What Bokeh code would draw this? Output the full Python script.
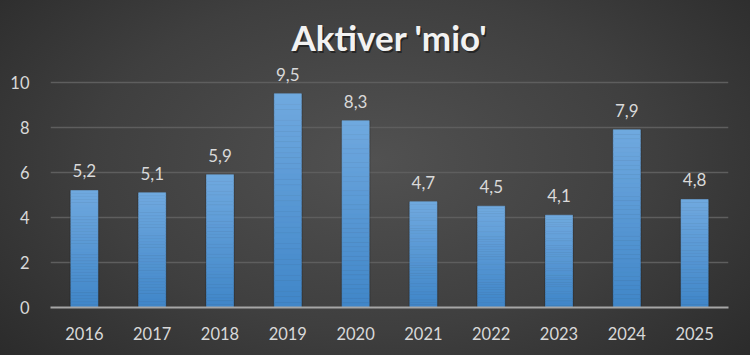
from bokeh.plotting import figure
from bokeh.models import Range1d, FixedTicker, ColumnDataSource, LabelSet, Label
from bokeh.core.properties import value
from bokeh.embed import file_html
from bokeh.resources import INLINE

years = ["2016", "2017", "2018", "2019", "2020", "2021", "2022", "2023", "2024", "2025"]
values = [5.2, 5.1, 5.9, 9.5, 8.3, 4.7, 4.5, 4.1, 7.9, 4.8]
labels = ["5,2", "5,1", "5,9", "9,5", "8,3", "4,7", "4,5", "4,1", "7,9", "4,8"]
y_ticks = [0, 2, 4, 6, 8, 10]
title_text = "Aktiver 'mio'"

FONT = "Lato"
TXT = "#d9d9d9"

p = figure(x_range=years, y_range=Range1d(0, 13.644), width=750, height=355,
           output_backend="svg", toolbar_location=None,
           min_border_left=50, min_border_right=22, min_border_top=0, min_border_bottom=48)
p.title.visible = False
p.styles = {"background": "radial-gradient(ellipse 75% 95% at 50% 45%, #515151 0%, #3f3f3f 50%, #252525 100%)"}
p.border_fill_color = None
p.background_fill_color = None
p.outline_line_color = None

# title with soft shadow
for dx, dy, col, a in [(1.5, -1.5, "black", 0.45), (0, 0, "#f2f2f2", 1.0)]:
    p.add_layout(Label(x=5, y=12.02, x_offset=dx, y_offset=dy, text=title_text, text_align="center",
                       text_baseline="middle", text_font="Lato", text_font_size="35px",
                       text_font_style="bold", text_color=col, text_alpha=a))

# shadows
p.vbar(x=years, top=values, width=0.44, fill_color="black", fill_alpha=0.16, line_color=None)

# gradient bars built from slices
N = 40
c_top = (0x70, 0xa9, 0xdf)
c_bot = (0x40, 0x86, 0xc8)
for k in range(N):
    f = (k + 0.5) / N
    col = "#%02x%02x%02x" % tuple(int(round(c_bot[i] + (c_top[i] - c_bot[i]) * f)) for i in range(3))
    bottoms = [v * k / N for v in values]
    tops = [v * (k + 1) / N for v in values]
    p.vbar(x=years, bottom=bottoms, top=tops, width=0.4, fill_color=col, line_color=col, line_width=0.6)

src = ColumnDataSource(dict(x=years, y=values, t=labels))
p.add_layout(LabelSet(x="x", y="y", text="t", source=src, text_align="center",
                      text_baseline="alphabetic", y_offset=13, text_font=value(FONT),
                      text_font_size=value("17px"), text_color=value(TXT)))

p.yaxis.ticker = FixedTicker(ticks=y_ticks)
p.yaxis.axis_line_color = None
p.yaxis.major_tick_line_color = None
p.yaxis.minor_tick_line_color = None
p.yaxis.major_label_standoff = 15
p.xaxis.axis_line_color = "#a6a6a6"
p.xaxis.axis_line_width = 2
p.xaxis.major_tick_line_color = None
p.xaxis.minor_tick_line_color = None
p.xaxis.major_label_standoff = 13
for ax in (p.xaxis, p.yaxis):
    ax.major_label_text_font = FONT
    ax.major_label_text_font_size = "16.5px"
    ax.major_label_text_color = TXT
p.xgrid.grid_line_color = None
p.ygrid.grid_line_color = "#5e5e5e"
p.ygrid.grid_line_width = 1.5
p.x_range.range_padding = 0

open("out.html", "w").write(file_html(p, INLINE))
